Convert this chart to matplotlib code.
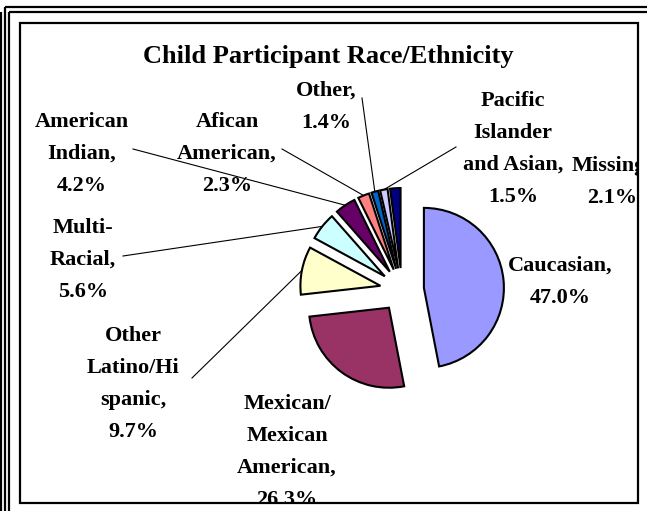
import matplotlib
matplotlib.use("Agg")
import matplotlib.pyplot as plt
import numpy as np
from matplotlib.patches import Rectangle
from matplotlib.lines import Line2D
from matplotlib.transforms import Bbox, TransformedBbox

# ---------------- data ----------------
title = "Child Participant Race/Ethnicity"
categories = ["Caucasian", "Mexican/\nMexican\nAmerican", "Other\nLatino/Hi\nspanic",
              "Multi-\nRacial", "American\nIndian", "Afican\nAmerican", "Other",
              "Pacific\nIslander\nand Asian", "Missing"]
values = [47.0, 26.3, 9.7, 5.6, 4.2, 2.3, 1.4, 1.5, 2.1]
colors = ["#9999FF", "#993366", "#FFFFCC", "#CCFFFF", "#660066",
          "#FF8080", "#0066CC", "#CCCCFF", "#000080"]

# ---------------- layout (pixel positions, y measured from top) ----------------
W, H = 647, 511
pie_center = (402, 290)
pie_radius = 80
explode_px = 22
label_pos = [(560, 282), (287, 452), (133, 384), (83, 260), (82, 154),
             (227, 154), (326, 107), (513, 149), (612, 182)]
leader_start = {2: (192, 378), 3: (123, 256), 4: (133, 149), 5: (282, 149),
                6: (362, 98), 7: (456, 147)}

FONT = "Liberation Serif"

fig = plt.figure(figsize=(W / 100, H / 100), dpi=100)
ax = fig.add_axes([0, 0, 1, 1])


def Y(y):
    return H - y


wedges, _ = ax.pie(values, colors=colors, startangle=90, counterclock=False,
                   center=(pie_center[0], Y(pie_center[1])), radius=pie_radius,
                   explode=[explode_px] * len(values),
                   wedgeprops=dict(edgecolor="black", linewidth=1.5))
ax.set_xlim(0, W)
ax.set_ylim(0, H)
ax.set_aspect("auto")
ax.axis("off")

# inner chart box
bx0, by0, bx1, by1 = 20, 22.5, 638, 502.5
box = Rectangle((bx0, Y(by1)), bx1 - bx0, by1 - by0, fill=False,
                edgecolor="black", linewidth=1.6, zorder=5)
ax.add_patch(box)
clip_bb = TransformedBbox(Bbox([[bx0 + 1, Y(by1) + 1], [bx1 - 1, Y(by0) - 1]]),
                          ax.transData)

# outer double frame (top + left)
frame_lines = [
    ([4.5, W], [Y(7), Y(7)]),
    ([8.5, W], [Y(11.5), Y(11.5)]),
    ([1, 1], [Y(12), 0]),
    ([4.5, 4.5], [Y(7), 0]),
    ([8.5, 8.5], [Y(11.5), 0]),
]
for xs, ys in frame_lines:
    ax.add_line(Line2D(xs, ys, color="black", linewidth=1.6,
                       solid_capstyle="butt", zorder=5))

# title
ax.text(328, Y(56), title, ha="center", va="center", fontsize=19,
        fontweight="bold", family=FONT)

# labels
for i, (cat, v) in enumerate(zip(categories, values)):
    x, y = label_pos[i]
    t = ax.text(x, Y(y), f"{cat},\n{v:.1f}%", ha="center", va="center",
                multialignment="center", fontsize=16, fontweight="bold",
                family=FONT, linespacing=1.8)
    t.set_clip_box(clip_bb)
    t.set_clip_on(True)

# leader lines to the outer mid-point of each wedge
for i, start in leader_start.items():
    w = wedges[i]
    mid = np.deg2rad((w.theta1 + w.theta2) / 2)
    cx, cy = w.center
    ex = cx + w.r * np.cos(mid)
    ey = cy + w.r * np.sin(mid)
    ax.add_line(Line2D([start[0], ex], [Y(start[1]), ey], color="black",
                       linewidth=0.8))

fig.savefig("out.png", dpi=100)
